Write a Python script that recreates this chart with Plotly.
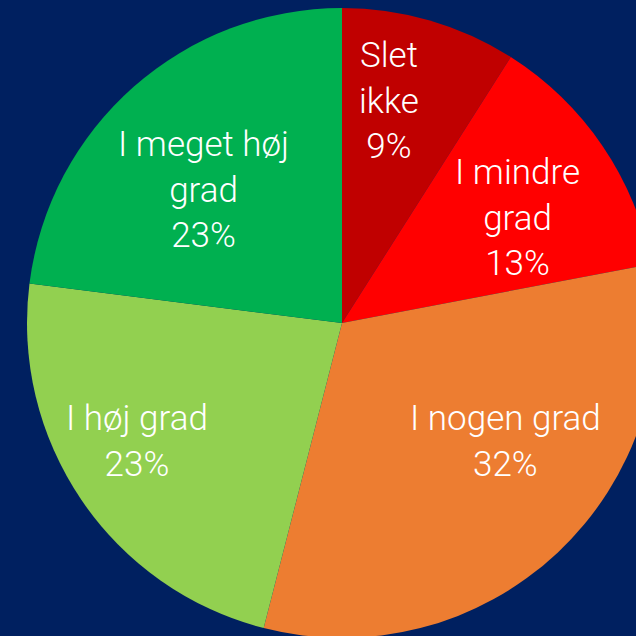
import math

import plotly.graph_objects as go

BG = "#002060"
WHITE = "#ffffff"

categories = ["Slet ikke", "I mindre grad", "I nogen grad", "I høj grad", "I meget høj grad"]
text_labels = ["Slet<br>ikke", "I mindre<br>grad", "I nogen grad", "I høj grad", "I meget høj<br>grad"]
shares = [9, 13, 32, 23, 23]
colors = ["#C00000", "#FF0000", "#ED7D31", "#92D050", "#00B050"]

# label placement inside each slice: (degrees clockwise from 12 o'clock, fraction of radius)
label_polar = [(12, 0.72), (59, 0.65), (126, 0.64), (240, 0.75), (314, 0.61)]

fig = go.Figure(
    go.Pie(
        labels=categories,
        values=shares,
        textinfo="none",
        sort=False,
        direction="clockwise",
        rotation=0,
        marker=dict(colors=colors, line=dict(width=0)),
        hoverinfo="label+percent",
        showlegend=False,
        domain=dict(x=[0, 1], y=[0, 1]),
    )
)

for label, value, (ang, frac) in zip(text_labels, shares, label_polar):
    a = math.radians(ang)
    fig.add_annotation(
        x=0.5 + 0.5 * frac * math.sin(a),
        y=0.5 + 0.5 * frac * math.cos(a),
        xref="paper",
        yref="paper",
        text=f"{label}<br>{value}%",
        showarrow=False,
        align="center",
        xanchor="center",
        yanchor="middle",
        font=dict(color=WHITE, size=35, family="Roboto, sans-serif", weight=300),
    )

fig.update_layout(
    width=684,
    height=646,
    margin=dict(l=27, r=27, t=8, b=8),
    paper_bgcolor=BG,
    plot_bgcolor=BG,
)

fig.write_html(
    "out.html",
    config={"displayModeBar": False},
    post_script=(
        "document.body.style.margin='0';"
        "document.body.style.overflow='hidden';"
        f"document.body.style.background='{BG}';"
    ),
)
